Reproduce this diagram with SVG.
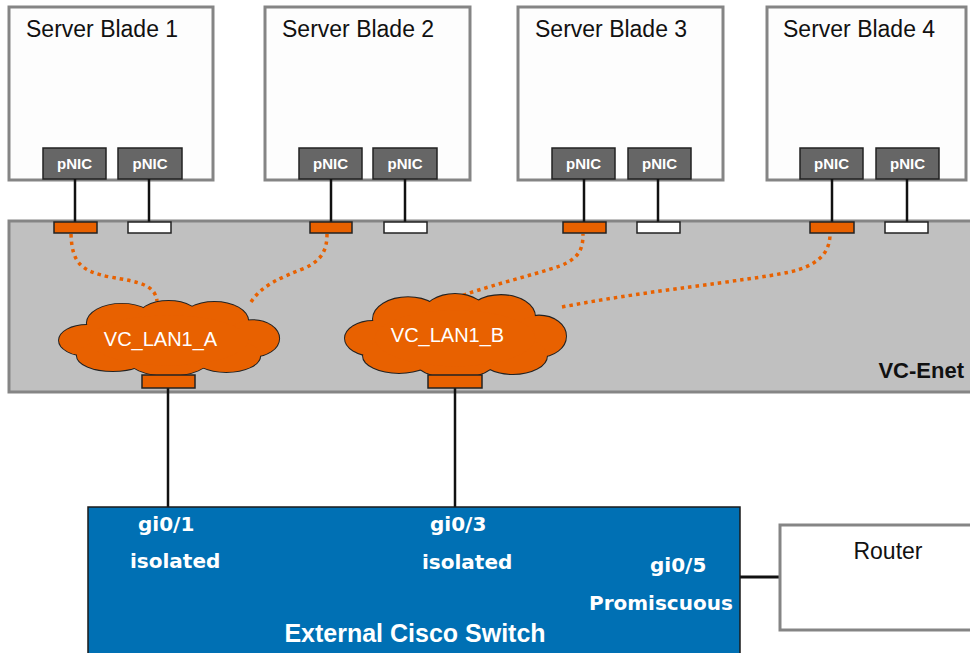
<svg xmlns="http://www.w3.org/2000/svg" xmlns:xlink="http://www.w3.org/1999/xlink" width="970" height="653" viewBox="0 0 970 653">
<style>
.blade{fill:#fdfdfd;stroke:#858585;stroke-width:3}
.pnic{fill:#666666;stroke:#222;stroke-width:1.5}
.pnict{font-family:"Liberation Sans",Arial,sans-serif;font-weight:bold;font-size:15px;fill:#fff;text-anchor:middle}
.title{font-family:"Liberation Sans",Arial,sans-serif;font-size:23px;fill:#111}
.wire{stroke:#111;stroke-width:2.5;fill:none}
.portO{fill:#e86100;stroke:#222;stroke-width:1.5}
.portW{fill:#fff;stroke:#222;stroke-width:1.5}
.dot{fill:none;stroke:#e86100;stroke-width:3.5;stroke-dasharray:3.5 4}
.lbl{font-family:"DejaVu Sans","Liberation Sans",sans-serif;font-weight:bold;font-size:20px;fill:#fff}
.cloudt{font-family:"Liberation Sans",Arial,sans-serif;font-size:20px;fill:#fff;text-anchor:middle}
</style>
<defs>
<g id="cloudBumps">
<ellipse cx="30" cy="42" rx="28" ry="16"/>
<ellipse cx="65" cy="24" rx="35" ry="20"/>
<ellipse cx="112" cy="20" rx="32" ry="19"/>
<ellipse cx="158" cy="22" rx="34" ry="20"/>
<ellipse cx="196" cy="40" rx="27" ry="19"/>
<ellipse cx="170" cy="58" rx="34" ry="17"/>
<ellipse cx="112" cy="60" rx="42" ry="19"/>
<ellipse cx="56" cy="58" rx="36" ry="16"/>
</g>
<g id="cloud">
<use xlink:href="#cloudBumps" fill="#e86100" stroke="#222" stroke-width="2"/>
<use xlink:href="#cloudBumps" fill="#e86100" stroke="none"/>
<ellipse cx="112" cy="42" rx="80" ry="26" fill="#e86100"/>
</g>
</defs>
<rect width="970" height="653" fill="#fff"/>

<g id="vc-enet">
<rect x="9" y="221" width="975" height="171" fill="#c0c0c0" stroke="#858585" stroke-width="3"/>
<text x="964" y="378" font-family="Liberation Sans,Arial,sans-serif" font-weight="bold" font-size="22" text-anchor="end" fill="#111">VC-Enet</text>
</g>

<g id="blade1">
<rect class="blade" x="9" y="7" width="204" height="173"/>
<text class="title" x="26" y="37">Server Blade 1</text>
<rect class="pnic" x="43" y="148" width="63" height="31"/><text class="pnict" x="74.5" y="169">pNIC</text>
<rect class="pnic" x="118" y="148" width="64" height="31"/><text class="pnict" x="150" y="169">pNIC</text>
</g>
<g id="blade2">
<rect class="blade" x="265" y="7" width="205" height="173"/>
<text class="title" x="282" y="37">Server Blade 2</text>
<rect class="pnic" x="299" y="148" width="63" height="31"/><text class="pnict" x="330.5" y="169">pNIC</text>
<rect class="pnic" x="373" y="148" width="64" height="31"/><text class="pnict" x="405" y="169">pNIC</text>
</g>
<g id="blade3">
<rect class="blade" x="518" y="7" width="205" height="173"/>
<text class="title" x="535" y="37">Server Blade 3</text>
<rect class="pnic" x="552" y="148" width="63" height="31"/><text class="pnict" x="583.5" y="169">pNIC</text>
<rect class="pnic" x="628" y="148" width="63" height="31"/><text class="pnict" x="659.5" y="169">pNIC</text>
</g>
<g id="blade4">
<rect class="blade" x="767" y="7" width="199" height="173"/>
<text class="title" x="783" y="37">Server Blade 4</text>
<rect class="pnic" x="800" y="148" width="63" height="31"/><text class="pnict" x="831.5" y="169">pNIC</text>
<rect class="pnic" x="876" y="148" width="63" height="31"/><text class="pnict" x="907.5" y="169">pNIC</text>
</g>

<g id="connectors">
<line class="wire" x1="75" y1="179" x2="75" y2="222"/>
<line class="wire" x1="149" y1="179" x2="149" y2="222"/>
<line class="wire" x1="331" y1="179" x2="331" y2="222"/>
<line class="wire" x1="405" y1="179" x2="405" y2="222"/>
<line class="wire" x1="584" y1="179" x2="584" y2="222"/>
<line class="wire" x1="658" y1="179" x2="658" y2="222"/>
<line class="wire" x1="832" y1="179" x2="832" y2="222"/>
<line class="wire" x1="907" y1="179" x2="907" y2="222"/>
<path class="dot" d="M71,234 C72,262 80,271 110,277 C140,282 155,285 157,301"/>
<path class="dot" d="M251,302 C262,285 280,278 305,268 C322,260 327,250 327,234"/>
<path class="dot" d="M456,298 C480,288 530,276 560,266 C580,258 583,248 583,234"/>
<path class="dot" d="M562,307 C650,290 740,282 790,272 C815,266 830,255 830,234"/>
<line class="wire" x1="168" y1="388" x2="168" y2="507"/>
<line class="wire" x1="455" y1="388" x2="455" y2="507"/>
<line x1="740" y1="577" x2="780" y2="577" stroke="#111" stroke-width="3"/>
</g>

<g id="ports">
<rect class="portO" x="54" y="222" width="43" height="11"/>
<rect class="portW" x="128" y="222" width="43" height="11"/>
<rect class="portO" x="310" y="222" width="42" height="11"/>
<rect class="portW" x="384" y="222" width="43" height="11"/>
<rect class="portO" x="563" y="222" width="43" height="11"/>
<rect class="portW" x="637" y="222" width="43" height="11"/>
<rect class="portO" x="810" y="222" width="44" height="11"/>
<rect class="portW" x="885" y="222" width="43" height="11"/>
</g>

<g id="vc-lan1-a">
<use xlink:href="#cloud" transform="translate(57,300) scale(0.996,0.96)"/>
<rect class="portO" x="142" y="375" width="53" height="13"/>
<text class="cloudt" x="160.5" y="346">VC_LAN1_A</text>
</g>
<g id="vc-lan1-b">
<use xlink:href="#cloud" transform="translate(343,293) scale(1,1.08)"/>
<rect class="portO" x="428" y="375" width="54" height="13"/>
<text class="cloudt" x="447.5" y="342">VC_LAN1_B</text>
</g>

<g id="switch">
<rect x="88" y="507" width="652" height="170" fill="#0070b4" stroke="#1a1a1a" stroke-width="1.5"/>
<text class="lbl" x="138" y="531">gi0/1</text>
<text class="lbl" x="130" y="568">isolated</text>
<text class="lbl" x="430" y="531">gi0/3</text>
<text class="lbl" x="422" y="569">isolated</text>
<text class="lbl" x="650" y="572">gi0/5</text>
<text class="lbl" x="589" y="610">Promiscuous</text>
<text x="415" y="642" font-family="Liberation Sans,Arial,sans-serif" font-weight="bold" font-size="25" fill="#fff" text-anchor="middle">External Cisco Switch</text>
</g>

<g id="router">
<rect x="780" y="525" width="200" height="105" fill="#fff" stroke="#858585" stroke-width="3"/>
<text x="888" y="559" font-family="Liberation Sans,Arial,sans-serif" font-size="23" fill="#111" text-anchor="middle">Router</text>
</g>
</svg>
